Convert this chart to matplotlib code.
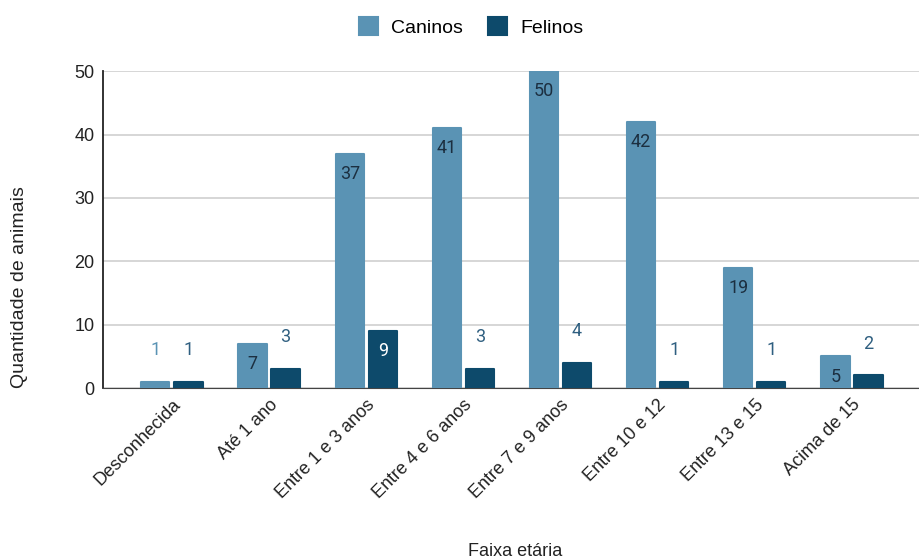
import numpy as np
import matplotlib.pyplot as plt

categorias = ['Desconhecida', 'Até 1 ano', 'Entre 1 e 3 anos', 'Entre 4 e 6 anos',
              'Entre 7 e 9 anos', 'Entre 10 e 12', 'Entre 13 e 15', 'Acima de 15']
caninos = [1, 7, 37, 41, 50, 42, 19, 5]
felinos = [1, 3, 9, 3, 4, 1, 1, 2]

cor_can = '#5a93b4'
cor_fel = '#0d4a6b'

plt.rcParams['font.family'] = ['Liberation Sans', 'DejaVu Sans']

fig = plt.figure(figsize=(9.19, 5.6), dpi=100)
ax = fig.add_axes([0.112, 0.307, 0.888, 0.566])

x = np.arange(len(categorias))
w = 0.29
off = 0.17
b1 = ax.bar(x - off, caninos, w, color=cor_can, edgecolor=cor_can, linewidth=1.5,
            joinstyle='round', label='Caninos', zorder=3)
b2 = ax.bar(x + off, felinos, w, color=cor_fel, edgecolor=cor_fel, linewidth=1.5,
            joinstyle='round', label='Felinos', zorder=3)

# rotulos: dentro da barra quando cabe, senao acima
for xi, v in zip(x, caninos):
    if v >= 5:
        ax.text(xi - off, v - 3.2, str(v), ha='center', va='center', fontsize=13,
                color='#1c2f40', family='Roboto', zorder=4)
    else:
        ax.text(xi - off, v + 5.0, str(v), ha='center', va='center', fontsize=13,
                color=cor_can, family='Roboto', zorder=4)
for xi, v in zip(x, felinos):
    if v >= 5:
        ax.text(xi + off, v - 3.2, str(v), ha='center', va='center', fontsize=13,
                color='white', family='Roboto', zorder=4)
    else:
        ax.text(xi + off, v + 5.0, str(v), ha='center', va='center', fontsize=13,
                color='#2f5f80', family='Roboto', zorder=4)

ax.set_xlim(-0.71, 7.69)
ax.set_ylim(0, 50)
ax.set_yticks([0, 10, 20, 30, 40, 50])
ax.yaxis.grid(True, color='#d0d0d0', linewidth=1.2, zorder=0)
ax.set_axisbelow(True)
for s in ['top', 'right']:
    ax.spines[s].set_visible(False)
ax.spines['left'].set_color('#222222')
ax.spines['bottom'].set_color('#444444')
ax.spines['left'].set_linewidth(1.3)
ax.tick_params(axis='both', length=0, labelsize=13, colors='#222222', pad=6)
ax.set_xticks(x)
ax.set_xticklabels(categorias, rotation=45, ha='right', rotation_mode='anchor', fontsize=13)

ax.set_ylabel('Quantidade de animais', fontsize=14, color='#222222', va='center')
ax.yaxis.set_label_coords(-0.102, 0.32)
fig.text(0.561, 0.016, 'Faixa etária', ha='center', va='center', fontsize=13, color='#222222')

fig.legend(handles=[b1, b2], loc='center', bbox_to_anchor=(0.513, 0.952), ncol=2,
           frameon=False, handlelength=0.95, handleheight=1.0,
           columnspacing=1.3, handletextpad=0.7, prop={'size': 14})

fig.savefig('out.png', dpi=100)
